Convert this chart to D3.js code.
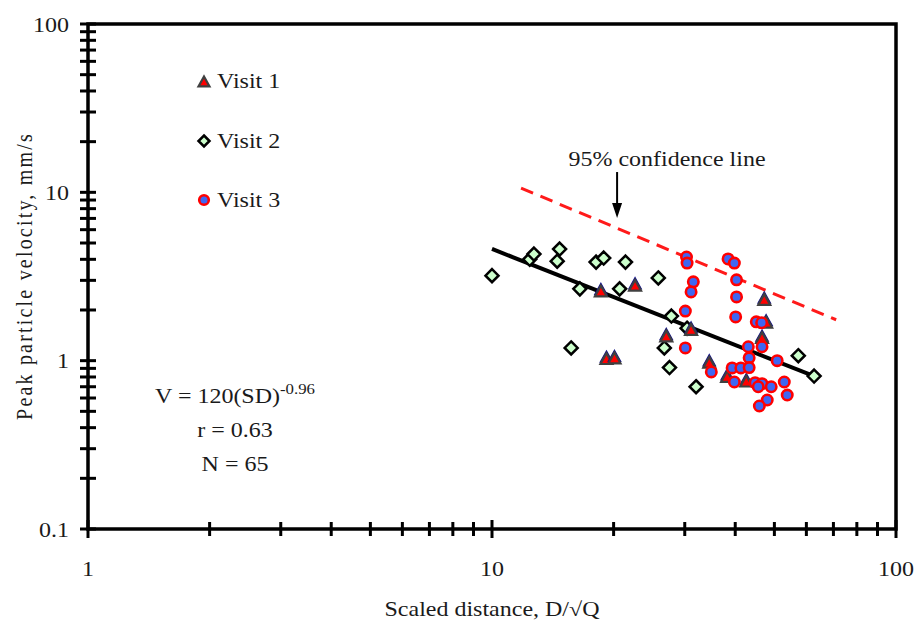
<!DOCTYPE html>
<html>
<head>
<meta charset="utf-8">
<script src="https://cdn.jsdelivr.net/npm/d3@7"></script>
<style>
  body { margin: 0; background: #fff; }
  text { font-family: "Liberation Serif", "Times New Roman", serif; fill: #1a1a1a; }
</style>
</head>
<body>
<svg id="chart" width="917" height="626"></svg>
<script>
// Scaled distance (D/sqrt(Q)) and peak particle velocity (mm/s) per visit
const visit1SD  = [18.6, 22.6, 19.2, 20.1, 27.0, 31.1, 34.5, 38.2, 42.6, 47.2, 47.7, 46.6];
const visit1PPV = [2.57, 2.78, 1.02, 1.03, 1.39, 1.52, 0.97, 0.80, 0.75, 2.29, 1.68, 1.36];

const visit2SD  = [10.0, 12.4, 12.7, 14.7, 14.5, 18.1, 18.9, 21.4, 16.5, 20.7, 25.8, 15.7, 26.7, 27.5, 27.8, 30.4, 32.0, 57.3, 62.7];
const visit2PPV = [3.2, 4.0, 4.3, 4.6, 3.9, 3.85, 4.07, 3.85, 2.67, 2.67, 3.1, 1.19, 1.19, 0.91, 1.84, 1.56, 0.70, 1.07, 0.81];

const visit3SD  = [30.3, 30.4, 31.5, 31.1, 30.1, 30.1, 38.4, 39.8, 40.3, 40.3, 40.1, 45.1, 46.5, 43.1, 46.6, 43.3, 50.8, 39.3, 41.3, 43.3, 34.9, 39.8, 44.8, 46.6, 49.1, 52.9, 53.8, 48.0, 45.9, 45.6];
const visit3PPV = [4.13, 3.8, 2.94, 2.56, 1.97, 1.19, 4.02, 3.8, 3.02, 2.39, 1.82, 1.70, 1.68, 1.21, 1.21, 1.04, 1.0, 0.905, 0.905, 0.91, 0.857, 0.747, 0.74, 0.73, 0.70, 0.747, 0.625, 0.584, 0.538, 0.70];

// Power-law fit and 95% confidence line end points
const fitSD   = [10, 63.4];
const fitPPV  = [4.61, 0.80];
const confSD  = [11.8, 71.1];
const confPPV = [10.6, 1.75];

// Arrow pointing at the confidence line
const arrowSD  = [20.4, 20.4];
const arrowPPV = [13.2, 7.05];

// Axis ticks and labels
const xMajor = [1, 10, 100];
const xMajorLabels = ["1", "10", "100"];
const xMinor = [2, 3, 4, 5, 6, 7, 8, 9, 20, 30, 40, 50, 60, 70, 80, 90];
const yMajor = [0.1, 1, 10, 100];
const yMajorLabels = ["0.1", "1", "10", "100"];
const yMinor = [0.2, 0.3, 0.4, 0.5, 0.6, 0.7, 0.8, 0.9, 2, 3, 4, 5, 6, 7, 8, 9, 20, 30, 40, 50, 60, 70, 80, 90];

const svg = d3.select("#chart");
svg.append("rect").attr("width", 917).attr("height", 626).attr("fill", "#fff");

const x = d3.scaleLog().domain([1, 100]).range([88, 896]);
const y = d3.scaleLog().domain([0.1, 100]).range([529, 24]);

const SX = 1.2; // horizontal stretch of the serif text

function label(g, px, py, str, size, anchor) {
  return g.append("text")
    .attr("transform", `translate(${px},${py}) scale(${SX},1)`)
    .attr("text-anchor", anchor || "start")
    .style("font-size", size + "px")
    .text(str);
}

// Plot frame
const frame = svg.append("g");
frame.append("rect")
  .attr("x", x(1)).attr("y", y(100))
  .attr("width", x(100) - x(1)).attr("height", y(0.1) - y(100))
  .attr("fill", "none").attr("stroke", "#000").attr("stroke-width", 3.5);

// Ticks crossing the axes
const ticks = svg.append("g").attr("stroke", "#000").attr("stroke-width", 3);
xMajor.forEach(v => ticks.append("line").attr("x1", x(v)).attr("x2", x(v)).attr("y1", y(0.1) - 9).attr("y2", y(0.1) + 9));
xMinor.forEach(v => ticks.append("line").attr("x1", x(v)).attr("x2", x(v)).attr("y1", y(0.1) - 7).attr("y2", y(0.1) + 7));
yMajor.concat(yMinor).forEach(v => ticks.append("line").attr("y1", y(v)).attr("y2", y(v)).attr("x1", x(1) - 8).attr("x2", x(1) + 8));

// Tick labels
const tl = svg.append("g");
xMajor.forEach((v, i) => label(tl, x(v), 576, xMajorLabels[i], 20, "middle"));
yMajor.forEach((v, i) => label(tl, 69, y(v) + 7.5, yMajorLabels[i], 20, "end"));

// Axis titles
label(svg, 492, 616, "Scaled distance, D/\u221AQ", 20, "middle");
svg.append("text")
  .attr("transform", `translate(32,276) rotate(-90) scale(1,${SX})`)
  .attr("text-anchor", "middle")
  .style("font-size", "20px")
  .style("letter-spacing", "2.2px")
  .text("Peak particle velocity, mm/s");

// Fit and confidence lines
const line = d3.line().x(d => x(d[0])).y(d => y(d[1]));
svg.append("path")
  .datum(d3.zip(confSD, confPPV))
  .attr("d", line)
  .attr("fill", "none").attr("stroke", "#ff1a1a").attr("stroke-width", 3)
  .attr("stroke-dasharray", "13,8");
svg.append("path")
  .datum(d3.zip(fitSD, fitPPV))
  .attr("d", line)
  .attr("fill", "none").attr("stroke", "#000").attr("stroke-width", 4);

// Marker shapes
const tri = (g, cx, cy, s, shade) => {
  if (shade) {
    g.append("path")
      .attr("d", `M${cx},${cy - s - 2}L${cx + s},${cy + s * 0.8 - 2}L${cx - s},${cy + s * 0.8 - 2}Z`)
      .attr("fill", "#10108a").attr("stroke", "#10108a").attr("stroke-width", 1.5);
  }
  g.append("path")
    .attr("d", `M${cx},${cy - s}L${cx + s},${cy + s * 0.8}L${cx - s},${cy + s * 0.8}Z`)
    .attr("fill", "#ff0000").attr("stroke", "#404040").attr("stroke-width", 2.2)
    .attr("stroke-linejoin", "miter");
};
const dia = (g, cx, cy, s) => {
  g.append("path")
    .attr("d", `M${cx},${cy - s}L${cx + s},${cy}L${cx},${cy + s}L${cx - s},${cy}Z`)
    .attr("fill", "#ccffcc").attr("stroke", "#000").attr("stroke-width", 2.5);
};
const circ = (g, cx, cy, r) => {
  g.append("circle").attr("cx", cx).attr("cy", cy).attr("r", r)
    .attr("fill", "#3f66f2").attr("stroke", "#ff0000").attr("stroke-width", 2.6);
};

const pts = svg.append("g");
d3.zip(visit2SD, visit2PPV).forEach(d => dia(pts, x(d[0]), y(d[1]), 6.5));
d3.zip(visit1SD, visit1PPV).forEach(d => tri(pts, x(d[0]), y(d[1]), 6, true));
d3.zip(visit3SD, visit3PPV).forEach(d => circ(pts, x(d[0]), y(d[1]), 5.2));

// Arrow annotation
svg.append("line")
  .attr("x1", x(arrowSD[0])).attr("x2", x(arrowSD[1]))
  .attr("y1", y(arrowPPV[0])).attr("y2", y(arrowPPV[1]) - 12)
  .attr("stroke", "#000").attr("stroke-width", 2);
{
  const ax = x(arrowSD[1]), ay = y(arrowPPV[1]);
  svg.append("path").attr("d", `M${ax},${ay}L${ax - 5},${ay - 15}L${ax + 5},${ay - 15}Z`).attr("fill", "#000");
}
label(svg, 667, 166, "95% confidence line", 20, "middle");

// Legend
const lg = svg.append("g");
const legendItems = ["Visit 1", "Visit 2", "Visit 3"];
const legendY = [81, 141, 200];
tri(lg, 204, legendY[0] + 1, 5.5, false);
dia(lg, 204, legendY[1], 5.5);
circ(lg, 204, legendY[2], 4.8);
legendItems.forEach((t, i) => label(lg, 217, legendY[i] + 7, t, 20, "start"));

// Regression statistics
const st = svg.append("g");
const eq = st.append("text")
  .attr("transform", `translate(235,403) scale(${SX},1)`)
  .attr("text-anchor", "middle")
  .style("font-size", "20px");
eq.append("tspan").text("V = 120(SD)");
eq.append("tspan").attr("dy", -9).style("font-size", "14px").text("-0.96");
label(st, 235, 437, "r = 0.63", 20, "middle");
label(st, 235, 471, "N = 65", 20, "middle");
</script>
</body>
</html>
